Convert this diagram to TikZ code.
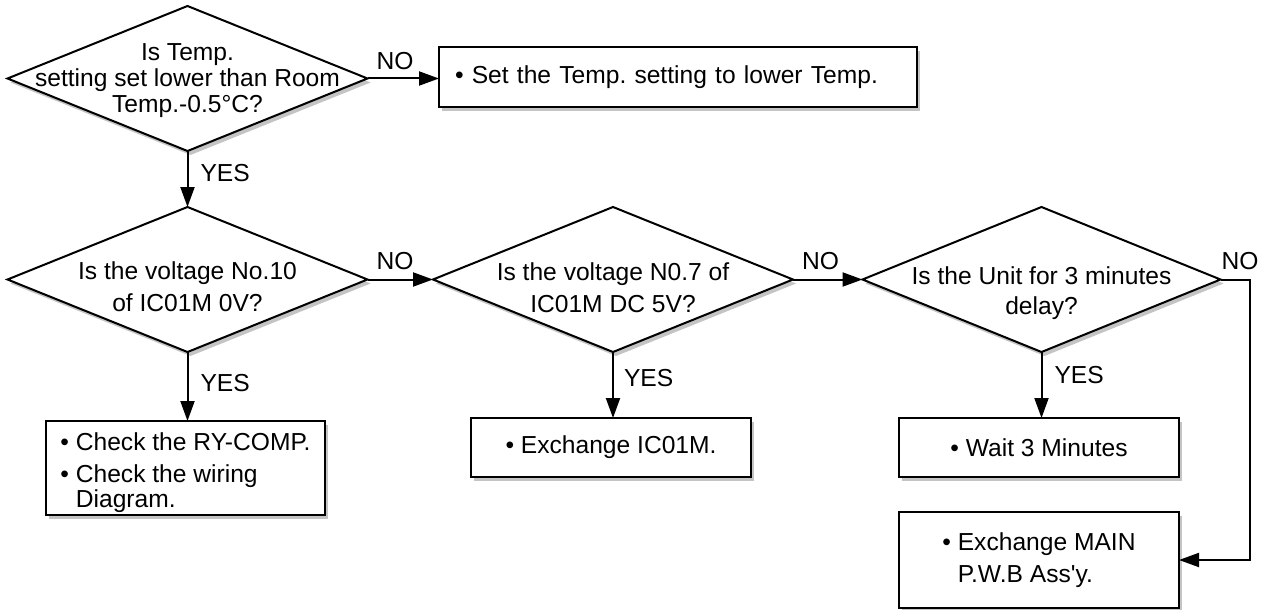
\documentclass[tikz,border=0pt]{standalone}
\usepackage{fontspec}
\setmainfont{Liberation Sans}
\usepackage{tikz}
\usetikzlibrary{arrows.meta,positioning,calc,shapes.geometric,shadows}
\definecolor{pshade}{HTML}{C4C4C4}
\newcommand\bul{\textbullet\ }
\tikzset{
  % Decision diamond and action box, both with a grey drop shadow.
  dec/.style  = {diamond, draw=black, fill=white, line width=1pt, inner sep=0pt, outer sep=0pt,
                 minimum width=180pt, minimum height=72.5pt,
                 drop shadow={shadow xshift=1.5pt, shadow yshift=-2pt, fill=pshade, opacity=1}},
  act/.style  = {rectangle, draw=black, fill=white, line width=1pt, outer sep=0pt, align=left,
                 minimum width=140pt, minimum height=29.5pt, font=\fontsize{12.3}{16}\selectfont,
                 drop shadow={shadow xshift=1.5pt, shadow yshift=-2pt, fill=pshade, opacity=1}},
  qtxt/.style = {align=center, inner sep=0pt, font=\fontsize{12.3}{16}\selectfont},
  arr/.style  = {-{Triangle[length=10pt,width=7pt]}, line width=1pt},
  lbl/.style  = {font=\fontsize{12.3}{14}\selectfont, inner sep=0pt},
}
\begin{document}
\begin{tikzpicture}[x=0.5pt,y=-0.5pt]
\useasboundingbox (0,0) rectangle (1264,610);
\node[dec, label={[qtxt, font=\fontsize{12.3}{13.2}\selectfont, yshift=-1pt]center:{Is Temp.\\setting set lower than Room\\Temp.-0.5°C?}}] (d1) at (187.5,78.5) {};
\node[dec, label={[qtxt, yshift=-3.5pt]center:{Is the voltage No.10\\of IC01M 0V?}}] (d2) at (187.5,279.5) {};
\node[dec, label={[qtxt, yshift=-4pt]center:{Is the voltage N0.7 of\\IC01M DC 5V?}}] (d3) at (613,279.5) {};
\node[dec, minimum width=179pt, label={[qtxt, font=\fontsize{12.3}{15}\selectfont, yshift=-7pt]center:{Is the Unit for 3 minutes\\delay?}}] (d4) at (1041.5,279.5) {};
\node[act, minimum width=239pt, minimum height=30pt, text width=223pt, inner xsep=8pt] (b1) at (678,77) {\bul Set the Temp.\ setting to lower Temp.};
\node[act, minimum width=139.5pt, minimum height=47pt, inner ysep=1pt, font=\fontsize{12.3}{12.5}\selectfont] (b2) at (185.5,468) {\rule{0pt}{13.5pt}\bul Check the RY-COMP.\\[3.5pt]\bul Check the wiring\\\phantom{\bul}Diagram.};
\node[act] (b3) at (611,447.5) {\bul Exchange IC01M.};
\node[act] (b4) at (1039,447.5) {\bul Wait 3 Minutes};
\node[act, minimum height=48pt] (b5) at (1039,560) {\bul Exchange MAIN\\\phantom{\bul}P.W.B Ass\textquotesingle y.};
\draw[arr] (d1.east) -- node[lbl, anchor=south west, pos=0, xshift=4pt, yshift=4pt]{NO} (d1.east -| b1.west);
\draw[arr] (d1.south) -- node[lbl, anchor=west, pos=.4, xshift=6pt]{YES} (d2.north);
\draw[arr] (d2.east) -- node[lbl, anchor=south west, pos=0, xshift=4pt, yshift=4.5pt]{NO} (d3.west);
\draw[arr] (d3.east) -- node[lbl, anchor=south west, pos=0, xshift=4pt, yshift=4.5pt]{NO} (d4.west);
\draw[arr] (d2.south) -- node[lbl, anchor=west, pos=.45, xshift=6pt]{YES} (d2.south |- b2.north);
\draw[arr] (d3.south) -- node[lbl, anchor=west, pos=.4, xshift=5pt]{YES} (d3.south |- b3.north);
\draw[arr] (d4.south) -- node[lbl, anchor=west, pos=.35, xshift=6pt]{YES} (d4.south |- b4.north);
\draw[arr] (d4.east) -- node[lbl, anchor=south west, pos=0, yshift=4.5pt]{NO} ++(29,0) |- (b5.east);
\end{tikzpicture}
\end{document}
